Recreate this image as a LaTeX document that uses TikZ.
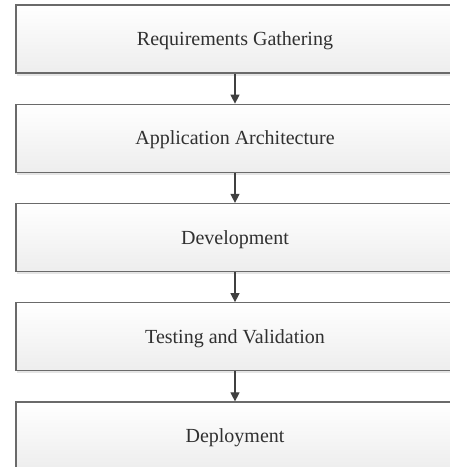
\documentclass[tikz,border=0pt]{standalone}
\usepackage{fontspec}
\setmainfont{Liberation Serif}
\usetikzlibrary{arrows.meta,shadows}
\definecolor{boxedge}{HTML}{6A6A6A}
\definecolor{boxtext}{HTML}{303030}
\definecolor{arrowc}{HTML}{404040}
\begin{document}
\begin{tikzpicture}[x=1pt,y=1pt,
  stagebox/.style={rectangle, draw=boxedge, line width=1.2pt,
    top color=white, bottom color=black!7,
    minimum width=438pt, minimum height=68pt, inner sep=0pt,
    text height=17pt, text depth=4pt,
    text=boxtext, font=\fontsize{20}{24}\selectfont,
    drop shadow={shadow xshift=0.5pt, shadow yshift=-2.5pt, fill=black!20, opacity=0.5}},
  flow/.style={draw=arrowc, line width=1.1pt, -{Triangle[length=9pt,width=9pt]}}]
\useasboundingbox (0,0) rectangle (450,-467);
\fill[white] (0,0) rectangle (450,-467);
\clip (0,0) rectangle (450,-467);
\node[stagebox] (req) at (235,-39) {Requirements Gathering};
\node[stagebox] (arch) at (235,-138.25) {Application Architecture};
\node[stagebox] (dev) at (235,-237.5) {Development};
\node[stagebox] (test) at (235,-336.75) {Testing and Validation};
\node[stagebox] (dep) at (235,-436) {Deployment};
\draw[flow] (req.south) -- (arch.north);
\draw[flow] (arch.south) -- (dev.north);
\draw[flow] (dev.south) -- (test.north);
\draw[flow] (test.south) -- (dep.north);
\end{tikzpicture}
\end{document}
